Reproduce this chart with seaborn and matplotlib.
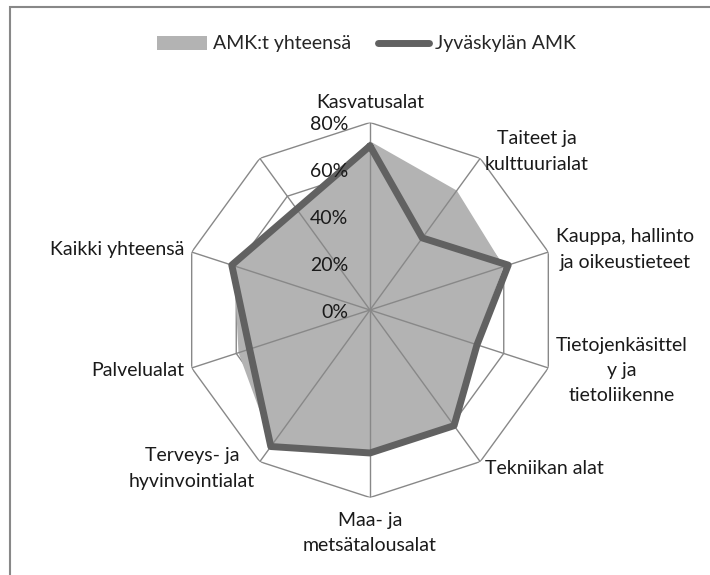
import numpy as np
import pandas as pd
import seaborn as sns
import matplotlib.pyplot as plt
from matplotlib.patches import Patch, Rectangle
from matplotlib.lines import Line2D

# Data (share, 0..1)
categories = ["Kasvatusalat", "Taiteet ja\nkulttuurialat", "Kauppa, hallinto\nja oikeustieteet",
              "Tietojenkäsittel\ny ja\ntietoliikenne", "Tekniikan alat", "Maa- ja\nmetsätalousalat",
              "Terveys- ja\nhyvinvointialat", "Palvelualat", "Kaikki yhteensä", ""]
amk_yhteensa = [0.72, 0.63, 0.60, 0.47, 0.60, 0.60, 0.71, 0.59, 0.61, np.nan]
jyvaskyla = [0.70, 0.38, 0.62, 0.48, 0.61, 0.61, 0.72, 0.54, 0.62, np.nan]
series_names = ["AMK:t yhteensä", "Jyväskylän AMK"]
ticks = [0.0, 0.2, 0.4, 0.6, 0.8]

fill_col = "#b3b3b3"
line_col = "#616161"
grid_col = "#888888"

sns.set_style("white")
plt.rcParams["font.family"] = ["Lato", "DejaVu Sans"]
plt.rcParams["font.size"] = 14

n = len(categories)
theta = np.linspace(0, 2 * np.pi, n, endpoint=False)
df = pd.DataFrame({"kategoria": categories, "theta": theta,
                   series_names[0]: amk_yhteensa, series_names[1]: jyvaskyla})
pts = df.dropna()
closed = pd.concat([pts, pts.iloc[:1]], ignore_index=True)

fig = plt.figure(figsize=(7.1, 5.75), dpi=100)
ax = fig.add_axes([182.5 / 710, 77.5 / 575, 375 / 710, 375 / 575], projection="polar")
ax.set_theta_zero_location("N")
ax.set_theta_direction(-1)
ax.set_ylim(0, max(ticks))
ax.grid(False)
ax.spines["polar"].set_visible(False)
ax.set_xticks([])
ax.set_yticks([])
ax.patch.set_alpha(0)

# polygon rings and spokes
ring_theta = np.append(theta, theta[0])
for t in ticks[1:]:
    ax.plot(ring_theta, [t] * len(ring_theta), color=grid_col, lw=1.0, zorder=1)
for th in theta:
    ax.plot([th, th], [0, max(ticks)], color=grid_col, lw=1.0, zorder=3)

# series
ax.fill(closed["theta"], closed[series_names[0]], color=fill_col, lw=0, zorder=2)
sns.lineplot(data=closed, x="theta", y=series_names[1], sort=False, estimator=None,
             ax=ax, color=line_col, lw=5, zorder=4)
ax.set_xlabel("")
ax.set_ylabel("")

# value labels along the top spoke
for t in ticks:
    ax.annotate(f"{t:.0%}", xy=(0, t), xytext=(-22, -2), textcoords="offset pixels",
                ha="right", va="center", color="#1a1a1a", zorder=5)

# category labels: side labels are measured first, then drawn centred on their block
kw = dict(linespacing=1.6, color="#1a1a1a")
for th, lab in zip(theta, categories):
    deg = np.degrees(th)
    if np.isclose(deg, 0):
        ax.text(th, 0.85, lab, ha="center", va="bottom", **kw)
    elif np.isclose(deg, 180):
        ax.text(th, 0.86, lab, ha="center", va="top", **kw)
    else:
        probe = ax.text(th, 0.835, lab, ha="left", va="center", **kw)
        fig.canvas.draw()
        w = probe.get_window_extent().width
        probe.remove()
        sign = 1 if deg < 180 else -1
        ax.annotate(lab, xy=(th, 0.835), xytext=(sign * w / 2, 0), textcoords="offset pixels",
                    ha="center", va="center", annotation_clip=False, **kw)

handles = [Patch(facecolor=fill_col, edgecolor="none"),
           Line2D([0], [0], color=line_col, lw=5, solid_capstyle="round")]
fig.legend(handles, series_names, loc="center", bbox_to_anchor=(366 / 710, 1 - 44 / 575),
           ncol=2, frameon=False, handlelength=2.6, handletextpad=0.3, columnspacing=1.4)

# chart-area frame (right and bottom edges fall outside the image)
fig.add_artist(Rectangle((10 / 710, -0.1), 1.2, 1 - 7 / 575 + 0.1, transform=fig.transFigure,
                         fill=False, edgecolor=grid_col, lw=1.5))

fig.savefig("out.png", dpi=100)
